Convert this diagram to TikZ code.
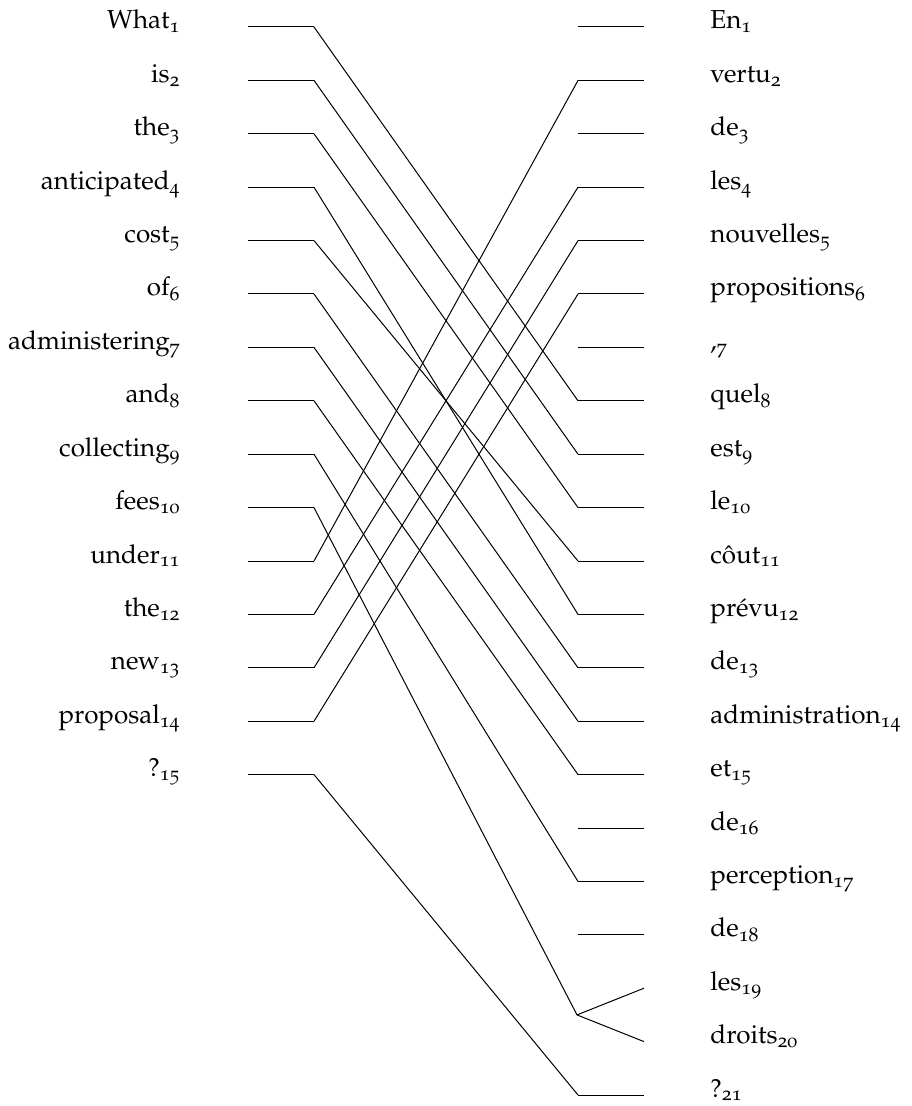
\documentclass[tikz,border=0pt]{standalone}
\usepackage[T1]{fontenc}
\usepackage[osf]{mathpazo}
\begin{document}
\begin{tikzpicture}[x=0.5pt,y=-0.5pt,
    parola/.style={inner sep=0pt, font=\fontsize{13}{15}\selectfont},
    tratto/.style={line width=0.5pt}]

    \useasboundingbox (0,0) rectangle (911,1106);

    % Passo verticale tra le righe
    \def\dy{53.4}

    % Frase inglese (a sinistra)
    \foreach \w [count=\i] in {What,is,the,anticipated,cost,of,administering,and,collecting,fees,under,the,new,proposal,?} {
        \coordinate (Ea\i) at (248,{27+\dy*(\i-1)});
        \coordinate (Eb\i) at (314,{27+\dy*(\i-1)});
        \node[parola, anchor=base east] (E\i) at (181,{29+\dy*(\i-1)}) {\w\textsubscript{\i}};
        \draw[tratto] (Ea\i) -- (Eb\i);
    }

    % Frase francese (a destra)
    \foreach \w [count=\j] in {En,vertu,de,les,nouvelles,propositions,{,},quel,est,le,c\^out,pr\'evu,de,administration,et,de,perception,de,les,droits,?} {
        \coordinate (Fa\j) at (578,{27+\dy*(\j-1)});
        \coordinate (Fb\j) at (644,{27+\dy*(\j-1)});
        \node[parola, anchor=base west] (F\j) at (710,{29+\dy*(\j-1)}) {\w\textsubscript{\j}};
    }
    \foreach \j in {1,...,18,21} {
        \draw[tratto] (Fa\j) -- (Fb\j);
    }

    % Allineamenti parola per parola
    \foreach \i/\j in {1/8, 2/9, 3/10, 4/12, 5/11, 6/13, 7/14, 8/15, 9/17, 11/2, 12/4, 13/5, 14/6, 15/21} {
        \draw[tratto] (Eb\i) -- (Fa\j);
    }

    % fees -> les droits (biforcazione)
    \coordinate (fork) at (577,{27+\dy*18.5});
    \draw[tratto] (Eb10) -- (fork);
    \draw[tratto] (fork) -- (Fb19);
    \draw[tratto] (fork) -- (Fb20);

\end{tikzpicture}
\end{document}
